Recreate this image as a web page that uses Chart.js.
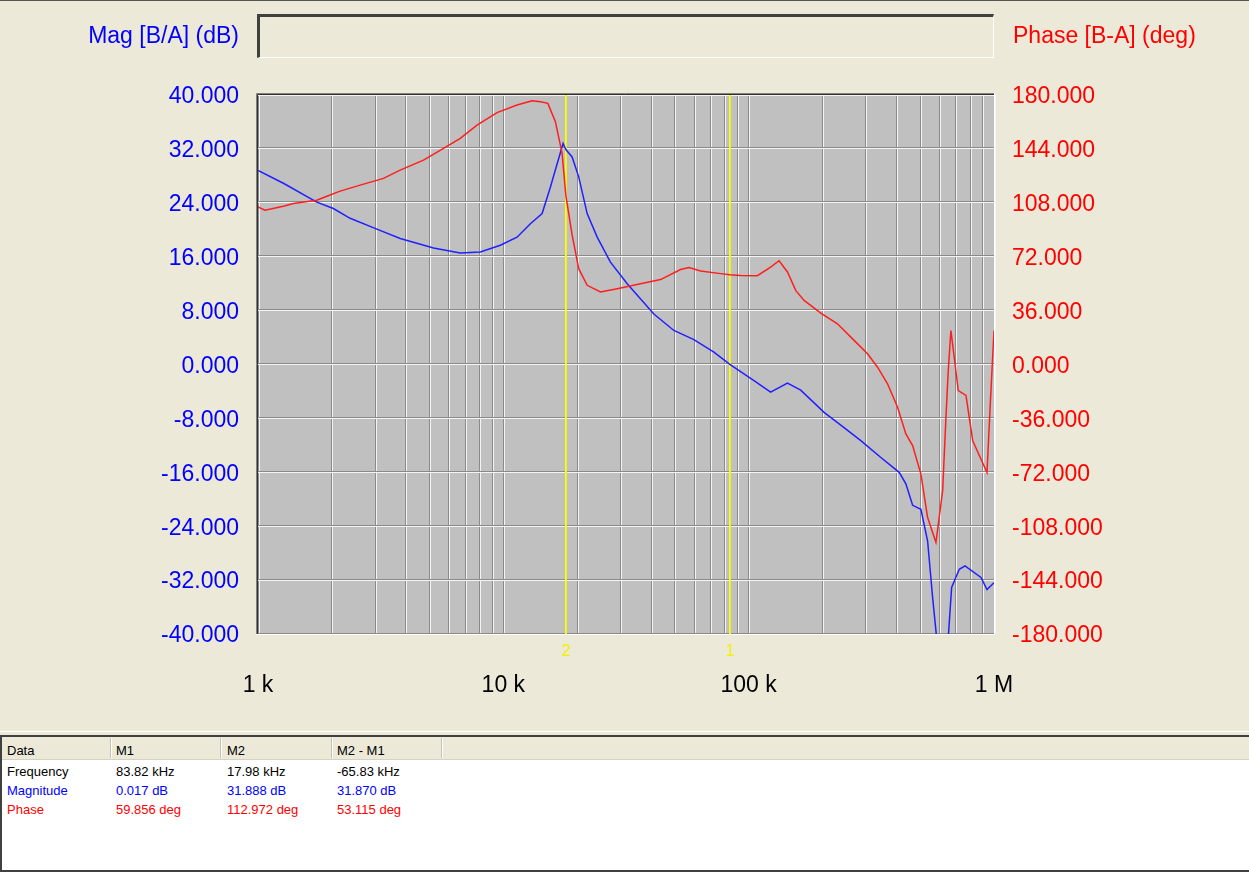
<!DOCTYPE html>
<html><head><meta charset="utf-8">
<script src="https://cdn.jsdelivr.net/npm/chart.js@4.4.0/dist/chart.umd.min.js"></script>
<style>
html,body{margin:0;padding:0;background:#ECE9D8;}
#wrap{position:relative;width:1249px;height:872px;overflow:hidden;background:#ECE9D8;font-family:"Liberation Sans",Arial,sans-serif;}
#c{position:absolute;left:0;top:0;}
#topline{position:absolute;left:0;top:0;width:1249px;height:1px;background:#555;}
.ttl{position:absolute;top:20px;font-size:23px;line-height:30px;white-space:nowrap;}
#magT{right:1010px;color:#0000FF;}
#phT{left:1013px;color:#FF0000;}
#box{position:absolute;left:257px;top:14px;width:733px;height:40px;border-top:3px solid #404040;border-left:3px solid #404040;border-bottom:1px solid #fff;border-right:1px solid #fff;}
#sep{position:absolute;left:0;top:731px;width:1249px;height:1px;background:#fff;}
#tbl{position:absolute;left:0;top:735px;width:1249px;height:137px;box-sizing:border-box;border-left:2px solid #404040;border-top:2px solid #404040;border-bottom:2px solid #404040;background:#fff;font-size:13px;}
#hdr{position:absolute;left:0;top:0;right:0;height:22px;background:#ECE9D8;border-bottom:1px solid #D6D2C2;}
.vs{position:absolute;top:1px;height:20px;width:1px;background:#C7C3B3;border-right:1px solid #fff;}
.t{position:absolute;line-height:16px;white-space:nowrap;}
.k{color:#000;} .b{color:#0000FF;} .r{color:#FF0000;}
</style></head>
<body>
<div id="wrap">
<canvas id="c" width="1249" height="731"></canvas>
<div id="topline"></div>
<div class="ttl" id="magT">Mag [B/A] (dB)</div>
<div class="ttl" id="phT">Phase [B-A] (deg)</div>
<div id="box"></div>
<div id="sep"></div>
<div id="tbl">
  <div id="hdr">
    <div class="vs" style="left:108px"></div>
    <div class="vs" style="left:218px"></div>
    <div class="vs" style="left:329px"></div>
    <div class="vs" style="left:439px"></div>
    <div class="t k" style="left:5px;top:6px">Data</div>
    <div class="t k" style="left:114px;top:6px">M1</div>
    <div class="t k" style="left:225px;top:6px">M2</div>
    <div class="t k" style="left:335px;top:6px">M2 - M1</div>
  </div>
  <div class="t k" style="left:5px;top:27px">Frequency</div>
  <div class="t k" style="left:114px;top:27px">83.82 kHz</div>
  <div class="t k" style="left:225px;top:27px">17.98 kHz</div>
  <div class="t k" style="left:335px;top:27px">-65.83 kHz</div>
  <div class="t b" style="left:5px;top:46px">Magnitude</div>
  <div class="t b" style="left:114px;top:46px">0.017 dB</div>
  <div class="t b" style="left:225px;top:46px">31.888 dB</div>
  <div class="t b" style="left:335px;top:46px">31.870 dB</div>
  <div class="t r" style="left:5px;top:65px">Phase</div>
  <div class="t r" style="left:114px;top:65px">59.856 deg</div>
  <div class="t r" style="left:225px;top:65px">112.972 deg</div>
  <div class="t r" style="left:335px;top:65px">53.115 deg</div>
</div>
</div>
<script>
// ---- data ----
const magFreqHz = [1000, 1269, 1736, 2029, 2374, 3052, 3798, 5194, 6676, 8056, 9723, 11370, 12890, 14390, 15550, 16570, 17520, 17980, 19070, 20290, 21960, 24130, 27330, 31980, 41070, 49570, 59800, 72180, 83820, 105100, 122900, 143900, 163000, 203000, 237400, 286500, 345800, 410700, 437300, 465900, 503500, 536300, 562100, 585300, 613500, 651000, 671900, 722000, 761600, 884800, 936300, 1000000];
const magDb = [28.8, 26.9, 24.1, 23.15, 21.7, 20.1, 18.7, 17.3, 16.55, 16.7, 17.7, 18.9, 20.9, 22.4, 26.3, 29.8, 32.8, 31.9, 30.8, 27.85, 22.4, 18.9, 15.2, 12.0, 7.5, 5.05, 3.7, 1.85, 0.02, -2.4, -4.1, -2.75, -3.8, -7.1, -9.0, -11.3, -13.8, -16.0, -17.7, -20.9, -21.5, -26.2, -34.6, -41, -48, -40.5, -33.1, -30.4, -29.9, -31.6, -33.4, -32.4];
const phaseFreqHz = [1000, 1068, 1269, 1394, 1736, 1908, 2161, 2608, 3246, 3798, 4727, 5705, 6676, 7811, 9426, 11370, 13100, 14160, 15190, 16300, 17360, 17980, 19070, 20290, 21960, 24890, 29110, 36240, 43730, 52780, 57060, 63700, 76880, 83820, 92750, 108500, 122900, 133000, 143900, 155500, 168200, 196800, 230100, 269000, 305100, 335200, 368200, 404500, 437300, 465900, 503500, 536300, 579900, 617500, 637000, 651000, 667500, 715200, 768800, 818900, 936300, 965800, 1000000];
const phaseDeg = [105.3, 103.0, 105.7, 107.5, 109.7, 112.4, 115.8, 119.8, 124.3, 129.8, 136.5, 144.3, 151.0, 159.9, 168.2, 173.3, 176.2, 175.5, 174.4, 162.2, 141.0, 113.0, 86.5, 64.0, 52.9, 48.4, 50.6, 54.0, 56.7, 63.4, 64.7, 62.5, 60.7, 59.9, 59.4, 59.3, 65.1, 69.3, 61.8, 49.5, 42.8, 34.3, 27.2, 16.1, 7.2, -1.8, -12.9, -28.6, -46.4, -54.2, -73.2, -102.2, -118.9, -84.3, -35.3, -3.9, 22.7, -17.4, -20.7, -50.9, -72.1, -26.3, 22.7];
const markerFreqHz = [83820, 17980];
const markerNames = ['1', '2'];
const xDecades = [1000, 10000, 100000, 1000000];
const xTickLabels = ['1 k', '10 k', '100 k', '1 M'];
const magTicks = [-40, -32, -24, -16, -8, 0, 8, 16, 24, 32, 40];
const phaseTicks = [-180, -144, -108, -72, -36, 0, 36, 72, 108, 144, 180];

const xGridHz = [];
for (let i = 0; i < xDecades.length - 1; i++) for (let n = 1; n <= 9; n++) xGridHz.push(n * xDecades[i]);
xGridHz.push(xDecades[xDecades.length - 1]);

const FONT = '"Liberation Sans", Arial, sans-serif';

const framePlugin = {
  id: 'frame',
  beforeDraw(chart) {
    const { ctx, chartArea: a } = chart;
    const xs = chart.scales.x, ys = chart.scales.y;
    ctx.save();
    ctx.fillStyle = '#ECE9D8';
    ctx.fillRect(0, 0, chart.width, chart.height);
    ctx.fillStyle = '#C0C0C0';
    ctx.fillRect(a.left, a.top, a.right - a.left, a.bottom - a.top);
    ctx.lineWidth = 1;
    const vline = (p, col) => { ctx.strokeStyle = col; ctx.beginPath(); ctx.moveTo(p + 0.5, a.top); ctx.lineTo(p + 0.5, a.bottom); ctx.stroke(); };
    const hline = (p, col) => { ctx.strokeStyle = col; ctx.beginPath(); ctx.moveTo(a.left, p + 0.5); ctx.lineTo(a.right, p + 0.5); ctx.stroke(); };
    xGridHz.forEach(v => { const p = Math.floor(xs.getPixelForValue(v)); vline(p, '#8A8A8A'); vline(p + 1, '#F4F4F4'); });
    magTicks.forEach(v => { const p = Math.floor(ys.getPixelForValue(v)); hline(p - 1, '#8A8A8A'); hline(p, '#F4F4F4'); });
    markerFreqHz.forEach((f, i) => {
      const p = Math.floor(xs.getPixelForValue(f));
      vline(p, '#FFFF00');
      vline(p + 1, '#F0F020');
      ctx.fillStyle = '#F2F200';
      ctx.font = '16px ' + FONT;
      ctx.textAlign = 'center';
      ctx.textBaseline = 'middle';
      ctx.fillText(markerNames[i], p + 1, a.bottom + 18);
    });
    ctx.restore();
  },
  afterDraw(chart) {
    const { ctx, chartArea: a } = chart;
    ctx.save();
    ctx.lineWidth = 1;
    ctx.strokeStyle = '#808080';
    ctx.beginPath(); ctx.moveTo(a.left - 2 + 0.5, a.bottom); ctx.lineTo(a.left - 2 + 0.5, a.top - 2 + 0.5); ctx.lineTo(a.right + 1, a.top - 2 + 0.5); ctx.stroke();
    ctx.strokeStyle = '#303030';
    ctx.beginPath(); ctx.moveTo(a.left - 1 + 0.5, a.bottom); ctx.lineTo(a.left - 1 + 0.5, a.top - 1 + 0.5); ctx.lineTo(a.right, a.top - 1 + 0.5); ctx.stroke();
    ctx.strokeStyle = '#FFFFFF';
    ctx.beginPath(); ctx.moveTo(a.left - 2, a.bottom + 0.5); ctx.lineTo(a.right + 0.5, a.bottom + 0.5); ctx.lineTo(a.right + 0.5, a.top - 2); ctx.stroke();
    ctx.restore();
  }
};

const tickFont = { family: FONT, size: 23 };

new Chart(document.getElementById('c'), {
  type: 'line',
  data: {
    datasets: [
      {
        label: 'Phase [B-A] (deg)',
        yAxisID: 'y2',
        data: phaseFreqHz.map((f, i) => ({ x: f, y: phaseDeg[i] })),
        borderColor: '#FF1E1E',
        borderWidth: 1.5,
        pointRadius: 0,
        tension: 0,
        fill: false
      },
      {
        label: 'Mag [B/A] (dB)',
        yAxisID: 'y',
        data: magFreqHz.map((f, i) => ({ x: f, y: magDb[i] })),
        borderColor: '#2020FF',
        borderWidth: 1.5,
        pointRadius: 0,
        tension: 0,
        fill: false
      }
    ]
  },
  options: {
    responsive: false,
    animation: false,
    devicePixelRatio: 1,
    layout: { padding: { top: 95, left: 0, right: 0, bottom: 0 } },
    plugins: { legend: { display: false }, tooltip: { enabled: false } },
    scales: {
      x: {
        type: 'logarithmic', position: 'bottom', min: xDecades[0], max: xDecades[xDecades.length - 1],
        grid: { display: false, drawTicks: false }, border: { display: false },
        afterBuildTicks: s => { s.ticks = xGridHz.map(v => ({ value: v })); },
        afterFit: s => { s.height = 97; },
        ticks: {
          autoSkip: false, maxRotation: 0, minRotation: 0, padding: 38, color: '#000000', font: tickFont,
          callback: v => { const i = xDecades.indexOf(v); return i >= 0 ? xTickLabels[i] : ''; }
        }
      },
      y: {
        position: 'left', min: magTicks[0], max: magTicks[magTicks.length - 1],
        grid: { display: false, drawTicks: false }, border: { display: false },
        afterBuildTicks: s => { s.ticks = magTicks.map(v => ({ value: v })); },
        afterFit: s => { s.width = 258; },
        ticks: { padding: 19, labelOffset: 2, color: '#0000FF', font: tickFont, callback: v => Number(v).toFixed(3) }
      },
      y2: {
        position: 'right', min: phaseTicks[0], max: phaseTicks[phaseTicks.length - 1],
        grid: { display: false, drawTicks: false }, border: { display: false },
        afterBuildTicks: s => { s.ticks = phaseTicks.map(v => ({ value: v })); },
        afterFit: s => { s.width = 255; },
        ticks: { padding: 18, labelOffset: 2, color: '#FF0000', font: tickFont, callback: v => Number(v).toFixed(3) }
      }
    }
  },
  plugins: [framePlugin]
});
</script>
</body></html>
